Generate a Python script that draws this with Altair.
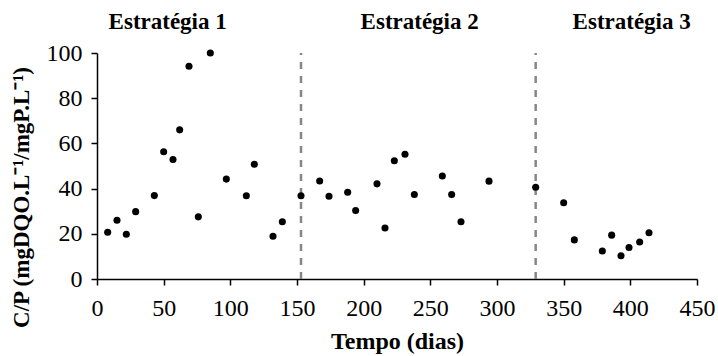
import altair as alt
import pandas as pd

# Data
dias = [8, 15, 22, 29, 43, 50, 57, 62, 69, 85, 76, 97, 112, 118, 132, 139, 153,
        167, 174, 188, 194, 210, 216, 223, 231, 238, 259, 266, 273, 294, 329,
        350, 358, 379, 386, 393, 399, 407, 414]
cp = [20.7, 26.0, 19.8, 29.8, 36.9, 56.3, 52.9, 66.0, 94.1, 100.0, 27.5, 44.2, 36.8, 50.8, 18.9, 25.3, 36.8,
      43.4, 36.6, 38.4, 30.3, 42.1, 22.6, 52.3, 55.2, 37.4, 45.6, 37.4, 25.3, 43.3, 40.6,
      33.7, 17.3, 12.4, 19.4, 10.3, 13.9, 16.4, 20.5]

divisoes = [153, 329]
estrategias = ["Estratégia 1", "Estratégia 2", "Estratégia 3"]
estrategia_x = [53, 242, 401]

pts = pd.DataFrame({"dias": dias, "cp": cp})
div = pd.DataFrame({"x": divisoes, "y0": [0, 0], "y1": [100, 100]})
lab = pd.DataFrame({"x": estrategia_x, "t": estrategias})

FONT = "'Times New Roman', 'Liberation Serif', serif"

xscale = alt.Scale(domain=[0, 450], nice=False, zero=False)
yscale = alt.Scale(domain=[0, 100], nice=False)

points = alt.Chart(pts).mark_circle(size=50, color="black", opacity=1).encode(
    x=alt.X("dias:Q", scale=xscale,
            axis=alt.Axis(values=[0, 50, 100, 150, 200, 250, 300, 350, 400, 450],
                          title="Tempo (dias)", labelFont=FONT, titleFont=FONT,
                          labelBaseline="alphabetic", labelPadding=30, titleFontSize=24,
                          titleY=69, titleBaseline="alphabetic")),
    y=alt.Y("cp:Q", scale=yscale,
            axis=alt.Axis(values=[0, 20, 40, 60, 80, 100],
                          title="C/P (mgDQO.L⁻¹/mgP.L⁻¹)", labelFont=FONT, titleFont=FONT,
                          labelPadding=9, titleFontSize=23,
                          titleAngle=270, titleX=-69, titleY=144,
                          titleAlign="center", titleBaseline="alphabetic")),
)

rules = alt.Chart(div).mark_rule(color="#868686", strokeWidth=2.5, strokeDash=[7, 7]).encode(
    x=alt.X("x:Q", scale=xscale),
    y=alt.Y("y0:Q", scale=yscale),
    y2="y1:Q",
)

labels = alt.Chart(lab).mark_text(
    font=FONT, fontSize=23, fontWeight="bold", color="black", baseline="middle", align="center"
).encode(
    x=alt.X("x:Q", scale=xscale),
    y=alt.value(-31),
    text="t:N",
)

chart = (rules + points + labels).properties(
    width=600, height=226,
    autosize=alt.AutoSizeParams(type="none"),
    padding={"left": 97, "top": 53, "right": 21, "bottom": 77},
).configure(font=FONT).configure_view(stroke=None).configure_axis(
    grid=False,
    domainColor="black",
    domainWidth=1.5,
    tickColor="black",
    tickWidth=1.5,
    tickSize=6,
    labelFontSize=24,
    labelColor="black",
    titleFontWeight="bold",
    titleColor="black",
).configure_axisX(labelFlush=False).configure_axisY(labelFlush=False)

chart.save("out.html", embed_options={"renderer": "svg", "actions": False})
